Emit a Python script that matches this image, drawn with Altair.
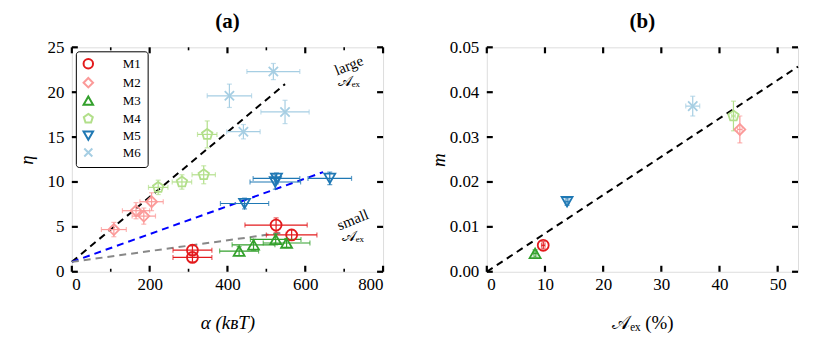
import altair as alt
import pandas as pd

FONT = "Liberation Serif"
series = ["M1", "M2", "M3", "M4", "M5", "M6"]
colors = ["#e31a1c", "#fb9a99", "#33a02c", "#b2df8a", "#1f78b4", "#a6cee3"]
pent = "M0,-1L0.951,-0.309L0.588,0.809L-0.588,0.809L-0.951,-0.309Z"
xshape = "M-0.85,-0.85L0.85,0.85M-0.85,0.85L0.85,-0.85"
shapes = ["circle", "diamond", "triangle-up", pent, "triangle-down", xshape]

# ---- panel (a) data ----
a_series = ["M1"] * 4 + ["M2"] * 4 + ["M3"] * 4 + ["M4"] * 4 + ["M5"] * 4 + ["M6"] * 4
a_alpha = [310, 310, 525, 565,
           108, 165, 185, 205,
           430, 467, 524, 552,
           222, 283, 339, 348,
           444, 523, 526, 663,
           518, 405, 548, 441]
a_alpha_err = [50, 50, 80, 65,
               32, 35, 30, 30,
               50, 55, 65, 60,
               25, 25, 30, 25,
               62, 65, 60, 56,
               68, 57, 62, 43]
a_eta = [2.4, 1.6, 5.2, 4.1,
         4.7, 6.8, 6.2, 7.8,
         2.3, 3.0, 3.6, 3.2,
         9.4, 10.0, 10.8, 15.3,
         7.6, 10.0, 10.4, 10.4,
         22.3, 19.6, 17.8, 15.6]
a_eta_err = [0.5, 0.5, 0.8, 0.6,
             0.8, 0.9, 0.9, 1.0,
             0.5, 0.6, 0.6, 0.5,
             0.8, 0.8, 1.0, 1.5,
             0.6, 0.8, 0.6, 0.7,
             0.9, 1.3, 1.3, 0.8]

fit_x = [[0, 548], [0, 646], [0, 549]]
fit_y = [[1.1, 20.9], [1.1, 11.1], [1.1, 4.4]]
fit_colors = ["black", "#0000ff", "#888888"]

note_word = ["large", "small"]
note_x = [712, 722]
note_y = [23.0, 5.8]
note_sub = ["𝒜ₑₓ", "𝒜ₑₓ"]
note_sub_y = [21.2, 4.0]

a_xticks = [0, 200, 400, 600, 800]
a_xminor = [100, 300, 500, 700]
a_yticks = [0, 5, 10, 15, 20, 25]

# ---- panel (b) data ----
b_series = series
b_aex = [9.7, 43.5, 8.3, 42.4, 13.8, 35.4]
b_aex_err = [0.3, 0.4, 0.3, 0.3, 0.3, 1.2]
b_m = [0.0059, 0.0317, 0.0041, 0.0347, 0.0156, 0.0369]
b_m_err = [0.0008, 0.0030, 0.0008, 0.0033, 0.0008, 0.0022]
b_fit_x = [0, 53.5]
b_fit_y = [0, 0.0457]
b_xticks = [0, 10, 20, 30, 40, 50]
b_yticks = [0, 0.01, 0.02, 0.03, 0.04, 0.05]

dfa = pd.DataFrame({"s": a_series, "x": a_alpha, "xe": a_alpha_err, "y": a_eta, "ye": a_eta_err})
dfa["xlo"] = dfa.x - dfa.xe
dfa["xhi"] = dfa.x + dfa.xe
dfa["ylo"] = dfa.y - dfa.ye
dfa["yhi"] = dfa.y + dfa.ye
fits_a = [(pd.DataFrame({"x": fx, "y": fy}), c) for fx, fy, c in zip(fit_x, fit_y, fit_colors)]
dfnote = pd.DataFrame({"w": note_word, "x": note_x, "y": note_y, "sub": note_sub, "sy": note_sub_y})

dfb = pd.DataFrame({"s": b_series, "x": b_aex, "xe": b_aex_err, "y": b_m, "ye": b_m_err})
dfb["xlo"] = dfb.x - dfb.xe
dfb["xhi"] = dfb.x + dfb.xe
dfb["ylo"] = dfb.y - dfb.ye
dfb["yhi"] = dfb.y + dfb.ye
fits_b = [(pd.DataFrame({"x": b_fit_x, "y": b_fit_y}), "black")]

W, H = 312, 225


def label_axis(values, fmt, title, tpad, lpad, tstyle):
    kw = dict(values=values, ticks=False, domain=False, grid=False,
              labelFont=FONT, labelFontSize=17, labelColor="black", labelPadding=lpad,
              title=title, titleFont=FONT, titleFontSize=19, titleFontWeight="normal",
              titleFontStyle=tstyle, titleColor="black", titlePadding=tpad)
    if fmt:
        kw["format"] = fmt
    return alt.Axis(**kw)


def panel(df, fits, xdom, ydom, xvals, yvals, xminor, xtitle, ytitle, yfmt, legend, title,
          notes=None, xstyle="normal", ytpad=8):
    xs = alt.Scale(domain=xdom, nice=False, zero=False)
    ys = alt.Scale(domain=ydom, nice=False, zero=False)
    ax = label_axis(xvals, None, xtitle, 21, 5, xstyle)
    ay = label_axis(yvals, yfmt, ytitle, ytpad, 8, "italic")

    def X(f):
        return alt.X(f, scale=xs, axis=ax)

    def Y(f):
        return alt.Y(f, scale=ys, axis=ay)

    color_sc = alt.Scale(domain=series, range=colors)
    shape_sc = alt.Scale(domain=series, range=shapes)
    base = alt.Chart(df)
    layers = []
    for dfl, c in fits:
        layers.append(alt.Chart(dfl).mark_line(strokeDash=[7, 5], strokeWidth=2, color=c).encode(
            x=X("x:Q"), y=Y("y:Q")))
    for s, c in zip(series, colors):
        sub = df[df.s == s]
        sb = alt.Chart(sub)
        layers.append(sb.mark_errorbar(ticks=True, thickness=1.2, color=c).encode(
            x=X("xlo:Q"), x2="xhi:Q", y=Y("y:Q")))
        layers.append(sb.mark_errorbar(ticks=True, thickness=1.2, color=c).encode(
            y=Y("ylo:Q"), y2="yhi:Q", x=X("x:Q")))
    if legend:
        leg = alt.Legend(orient="top-left", title=None, strokeColor="black", fillColor="white",
                         padding=6, offset=4, cornerRadius=3, labelFont=FONT, labelFontSize=13,
                         labelColor="black", symbolSize=90, symbolStrokeWidth=2, rowPadding=0,
                         labelOffset=28)
    else:
        leg = None
    pts = base.mark_point(filled=False, size=120, strokeWidth=1.8, opacity=1).encode(
        x=X("x:Q"), y=Y("y:Q"),
        color=alt.Color("s:N", scale=color_sc, legend=leg),
        shape=alt.Shape("s:N", scale=shape_sc, legend=leg))
    layers.append(pts)

    # inward tick marks on all four sides, drawn as short rules from the frame inward
    def vticks(xv, yv, off, w=2.2):
        d = pd.DataFrame({"x": xv, "y": yv})
        return alt.Chart(d).mark_rule(strokeWidth=w, color="black", y2Offset=off).encode(
            x=X("x:Q"), y=Y("y:Q"), y2="y:Q")

    def hticks(xv, yv, off, w=2.2):
        d = pd.DataFrame({"x": xv, "y": yv})
        return alt.Chart(d).mark_rule(strokeWidth=w, color="black", x2Offset=off).encode(
            x=X("x:Q"), y=Y("y:Q"), x2="x:Q")

    L = 6
    n = len(xvals)
    m = len(yvals)
    layers.append(vticks(xvals, [ydom[0]] * n, -L))
    layers.append(vticks(xvals, [ydom[1]] * n, L))
    layers.append(hticks([xdom[0]] * m, yvals, L))
    layers.append(hticks([xdom[1]] * m, yvals, -L))
    if xminor:
        k = len(xminor)
        layers.append(vticks(xminor, [ydom[0]] * k, -3, 1.6))
        layers.append(vticks(xminor, [ydom[1]] * k, 3, 1.6))
    if notes is not None:
        nb = alt.Chart(notes)
        w = nb.mark_text(font=FONT, fontSize=15, angle=338, color="black").encode(
            x=X("x:Q"), y=Y("y:Q"), text="w:N")
        s = nb.mark_text(font=FONT, fontSize=15, color="black").encode(
            x=X("x:Q"), y=Y("sy:Q"), text="sub:N")
        layers += [w, s]
    ch = alt.layer(*layers).resolve_scale(x="shared", y="shared").properties(
        width=W, height=H,
        title=alt.Title(title, font=FONT, fontSize=21, fontWeight="bold", color="black", offset=6))
    return ch


pa = panel(dfa, fits_a, [0, 800], [0, 25], a_xticks, a_yticks, a_xminor,
           "α (kʙT)", "η", "d", True, "(a)", notes=dfnote, xstyle="italic", ytpad=10)
pb = panel(dfb, fits_b, [0, 53.5], [0, 0.05], b_xticks, b_yticks, None,
           "𝒜ₑₓ (%)", "m", ".2f", False, "(b)", ytpad=1)

chart = alt.hconcat(pa, pb, spacing=43).resolve_scale(color="independent", shape="independent").configure_view(
    stroke="black", strokeWidth=2.4).properties(
    padding={"left": 9, "top": 2, "right": 5, "bottom": 5}).configure(background="white")

chart.save("out.html", embed_options={"renderer": "svg", "actions": False})
